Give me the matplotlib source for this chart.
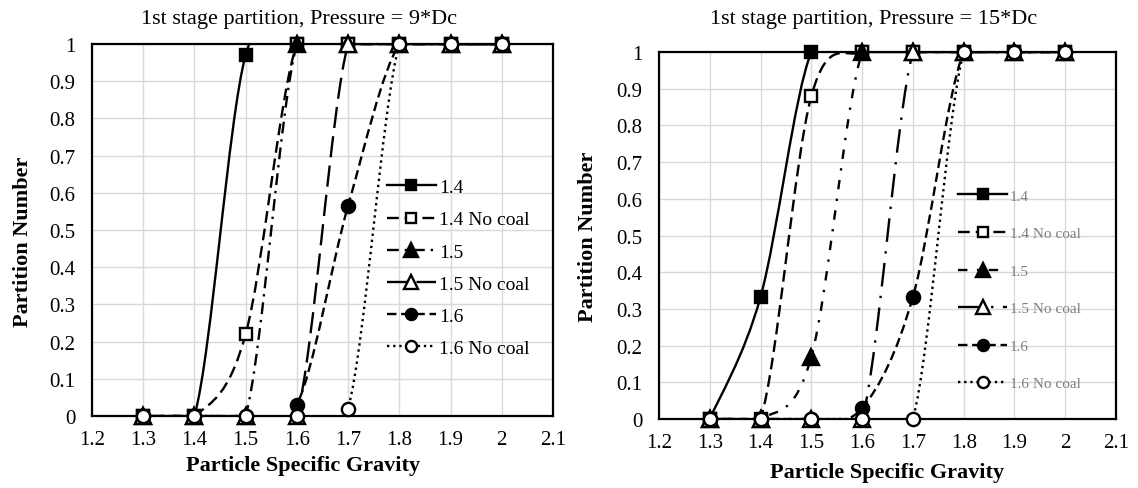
import matplotlib.pyplot as plt
from matplotlib.path import Path
from matplotlib.patches import PathPatch
from matplotlib.lines import Line2D
from matplotlib.ticker import FuncFormatter
import numpy as np

plt.rcParams['font.family'] = ['Liberation Serif', 'DejaVu Serif']

# Particle specific gravity (x) shared by every series
sg = [1.3, 1.4, 1.5, 1.6, 1.7, 1.8, 1.9, 2.0]

labels = ['1.4', '1.4 No coal', '1.5', '1.5 No coal', '1.6', '1.6 No coal']

# Pressure = 9*Dc
p9_14 = [0, 0, 0.97, 1, 1, 1, 1, 1]
p9_14_nc = [0, 0, 0.22, 1, 1, 1, 1, 1]
p9_15 = [0, 0, 0, 1, 1, 1, 1, 1]
p9_15_nc = [0, 0, 0, 0, 1, 1, 1, 1]
p9_16 = [0, 0, 0, 0.03, 0.565, 1, 1, 1]
p9_16_nc = [0, 0, 0, 0, 0.02, 1, 1, 1]

# Pressure = 15*Dc
p15_14 = [0, 0.333, 1, 1, 1, 1, 1, 1]
p15_14_nc = [0, 0, 0.88, 1, 1, 1, 1, 1]
p15_15 = [0, 0, 0.17, 1, 1, 1, 1, 1]
p15_15_nc = [0, 0, 0, 0, 1, 1, 1, 1]
p15_16 = [0, 0, 0, 0.03, 0.333, 1, 1, 1]
p15_16_nc = [0, 0, 0, 0, 0, 1, 1, 1]

markers = ['s', 's', '^', '^', 'o', 'o']
faces = ['black', 'white', 'black', 'white', 'black', 'white']
msizes = [9, 9, 11, 11, 9.5, 9.5]

styles_9 = ['-', (0, (5, 2.5)), (0, (5, 2.5, 1, 2.5)), (0, (9, 3.5)),
            (0, (4, 2)), (0, (1, 1.6))]
styles_15 = ['-', (0, (5, 2.5)), (0, (4, 4, 1, 4)), (0, (10, 4, 1, 4)),
             (0, (4, 2)), (0, (1, 1.6))]


def smooth_path(x, y):
    # Excel style smoothed line: cubic bezier through the points
    pts = np.column_stack([x, y]).astype(float)
    n = len(pts)
    verts = [pts[0]]
    codes = [Path.MOVETO]
    for i in range(n - 1):
        p0 = pts[max(i - 1, 0)]
        p1 = pts[i]
        p2 = pts[i + 1]
        p3 = pts[min(i + 2, n - 1)]
        c1 = p1 + (p2 - p0) / 6.0
        c2 = p2 - (p3 - p1) / 6.0
        verts += [c1, c2, p2]
        codes += [Path.CURVE4] * 3
    return Path(verts, codes)


def draw_panel(ax, series, styles, title_x, title, ylab_xy, xlab_xy,
               legend_pos, legend_size, legend_color, legend_spacing, handle_len):
    for k, yv in enumerate(series):
        patch = PathPatch(smooth_path(sg, yv), facecolor='none', edgecolor='black',
                          lw=1.7, linestyle=styles[k], zorder=3 + k)
        ax.add_patch(patch)
        ax.plot(sg, yv, linestyle='none', marker=markers[k], markersize=msizes[k],
                markerfacecolor=faces[k], markeredgecolor='black', markeredgewidth=1.7,
                zorder=3.5 + k, clip_on=False)

    ax.set_xlim(1.2, 2.1)
    ax.set_ylim(0, 1)
    ax.set_xticks(np.arange(1.2, 2.11, 0.1))
    ax.set_yticks(np.arange(0, 1.01, 0.1))
    fmt = FuncFormatter(lambda v, p: ('%.1f' % v).rstrip('0').rstrip('.') if abs(v) > 1e-9 else '0')
    ax.xaxis.set_major_formatter(fmt)
    ax.yaxis.set_major_formatter(fmt)
    ax.tick_params(length=0, labelsize=15)
    ax.tick_params(axis='y', pad=12)
    ax.tick_params(axis='x', pad=10)
    ax.grid(True, color='#d9d9d9', lw=1.0)
    ax.set_axisbelow(True)
    for s in ax.spines.values():
        s.set_linewidth(1.6)
        s.set_color('black')
    ax.set_xlabel('Particle Specific Gravity', fontsize=16, fontweight='bold')
    ax.set_ylabel('Partition Number', fontsize=16, fontweight='bold')
    ax.xaxis.set_label_coords(*xlab_xy)
    ax.xaxis.label.set_va('center')
    ax.yaxis.set_label_coords(*ylab_xy)
    ax.yaxis.label.set_va('center')
    ax.figure.text(title_x, 0.96, title, ha='center', va='center', fontsize=16)

    handles = []
    for k in range(len(series)):
        handles.append(Line2D([0], [0], color='black', lw=1.7, linestyle=styles[k],
                              marker=markers[k], markersize=msizes[k] - 1.5,
                              markerfacecolor=faces[k], markeredgecolor='black',
                              markeredgewidth=1.7))
    leg = ax.legend(handles, labels, loc='upper left', bbox_to_anchor=legend_pos,
                    frameon=False, fontsize=legend_size, handlelength=handle_len,
                    handletextpad=0.2, labelspacing=legend_spacing, borderaxespad=0)
    for t in leg.get_texts():
        t.set_color(legend_color)


fig = plt.figure(figsize=(11.38, 4.89), dpi=100)
ax1 = fig.add_axes([0.0808, 0.1472, 0.4051, 0.7607])
ax2 = fig.add_axes([0.5791, 0.1411, 0.4016, 0.7505])

draw_panel(ax1, [p9_14, p9_14_nc, p9_15, p9_15_nc, p9_16, p9_16_nc], styles_9,
           0.263, '1st stage partition, Pressure = 9*Dc', (-0.15, 0.47), (0.457, -0.132),
           (0.623, 0.659), 14, 'black', 0.75, 2.5)
draw_panel(ax2, [p15_14, p15_14_nc, p15_15, p15_15_nc, p15_16, p15_16_nc], styles_15,
           0.768, '1st stage partition, Pressure = 15*Dc', (-0.155, 0.5), (0.50, -0.145),
           (0.641, 0.643), 11, '#7f7f7f', 1.56, 3.2)

fig.savefig('out.png', dpi=100)
